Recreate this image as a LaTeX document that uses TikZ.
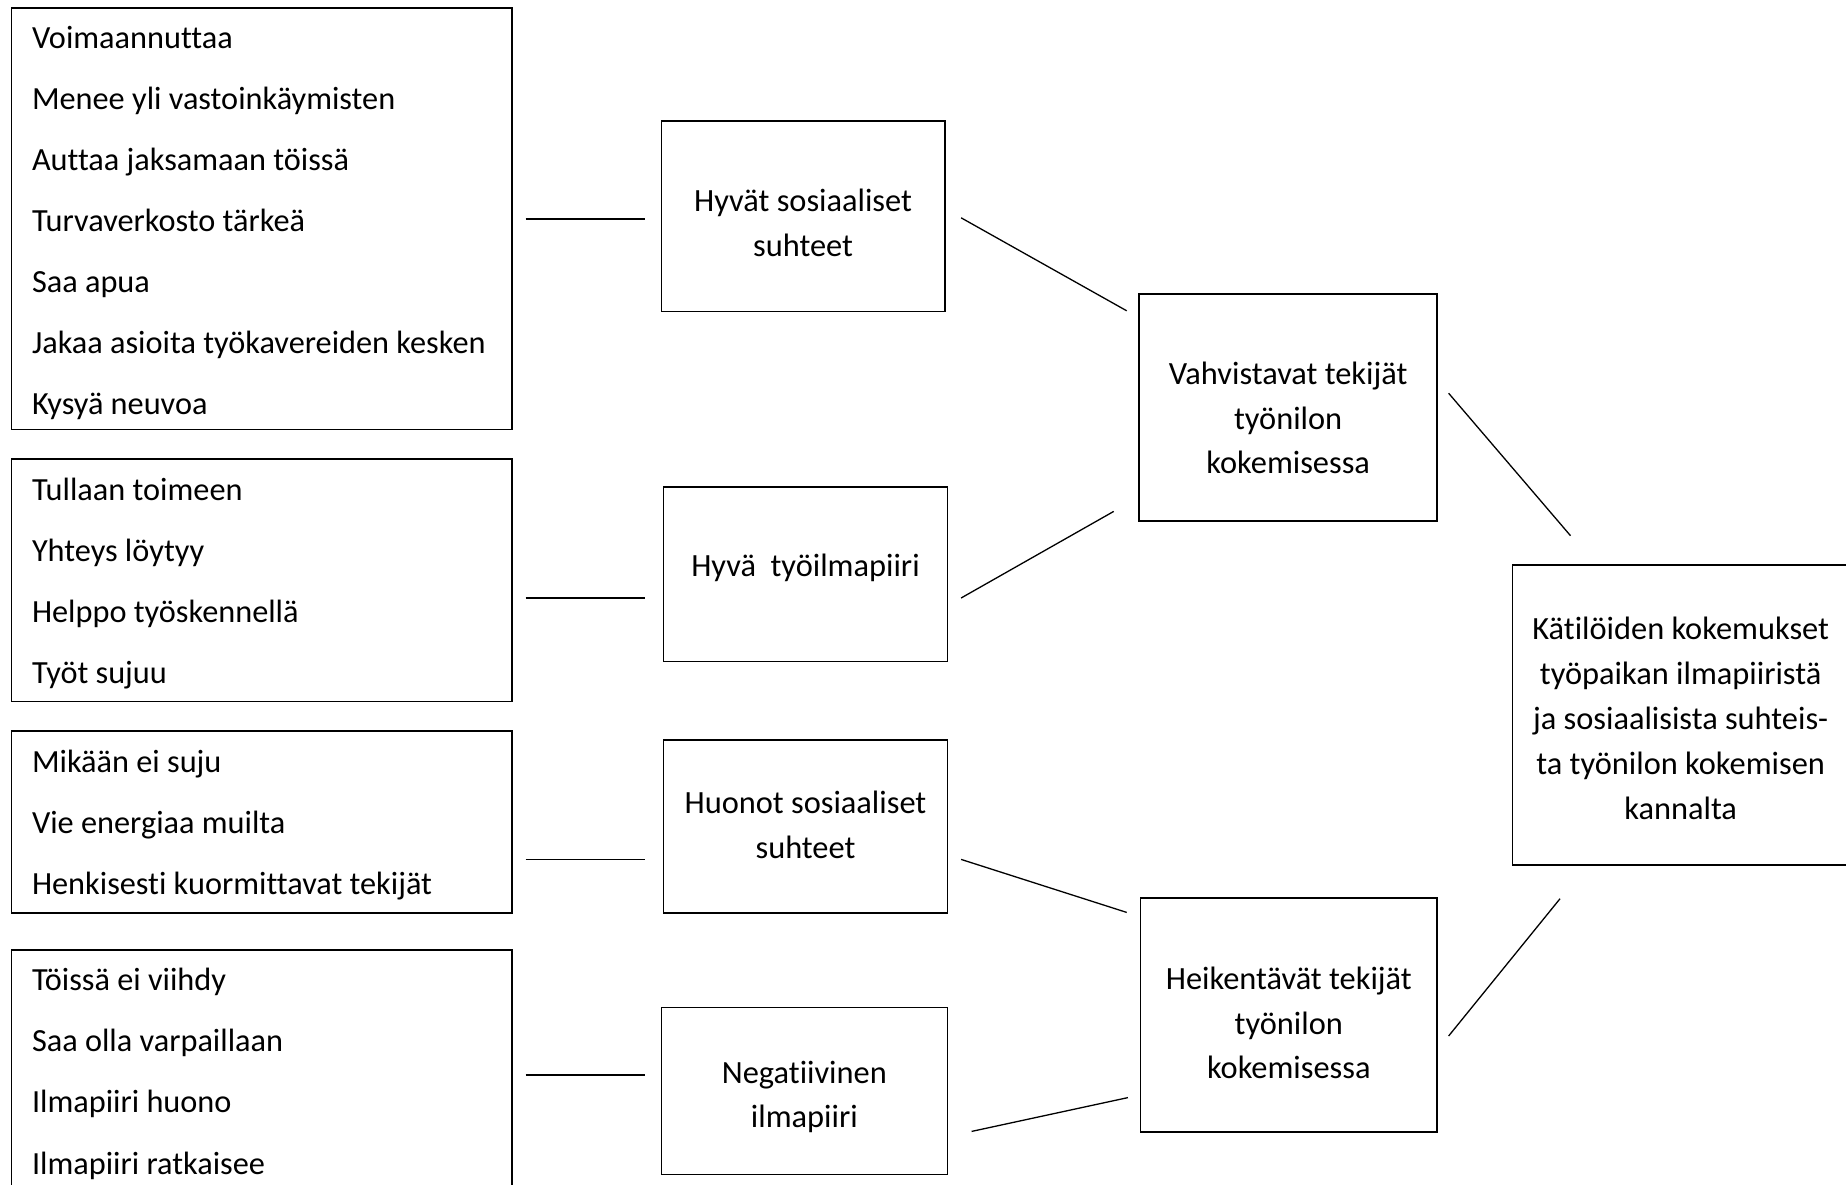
\documentclass[tikz,border=0pt]{standalone}
\usepackage{fontspec}
\setmainfont{Carlito}[Ligatures={NoCommon}]
\usetikzlibrary{calc}
\begin{document}
\begin{tikzpicture}[x=1pt,y=-1pt,
  box/.style={draw, line width=1.6pt, inner sep=0pt, anchor=north west},
  item/.style={anchor=base west, inner sep=0pt, font=\fontsize{32.3}{38}\selectfont},
  midtext/.style={align=center, inner sep=0pt, font=\fontsize{32.4}{44.8}\selectfont},
  conn/.style={line width=1.3pt}]
\useasboundingbox[fill=white] (0,0) rectangle (1846,1184);
% left boxes
\node[box, minimum width=500.4pt, minimum height=421.4pt] (a1) at (10.6,7.1) {};
\node[box, minimum width=500.4pt, minimum height=242.5pt] (a2) at (10.6,458) {};
\node[box, minimum width=500.4pt, minimum height=182.4pt] (a3) at (10.6,730) {};
\node[box, minimum width=500.4pt, minimum height=270pt] (a4) at (10.6,948.9) {};
\foreach \t [count=\i] in {Voimaannuttaa, Menee yli vastoinkäymisten, Auttaa jaksamaan töissä, Turvaverkosto tärkeä, Saa apua, Jakaa asioita työkavereiden kesken, Kysyä neuvoa}
  \node[item] (a1t\i) at (31.8,{48.7+61*(\i-1)}) {\t};
\foreach \t [count=\i] in {Tullaan toimeen, Yhteys löytyy, Helppo työskennellä, Työt sujuu}
  \node[item] (a2t\i) at (31.8,{500.8+60.8*(\i-1)}) {\t};
\foreach \t [count=\i] in {Mikään ei suju, Vie energiaa muilta, Henkisesti kuormittavat tekijät}
  \node[item] (a3t\i) at (31.8,{772.7+60.7*(\i-1)}) {\t};
\foreach \t [count=\i] in {Töissä ei viihdy, Saa olla varpaillaan, Ilmapiiri huono, Ilmapiiri ratkaisee}
  \node[item] (a4t\i) at (31.8,{990.5+61.2*(\i-1)}) {\t};
% middle and right boxes
\node[box, minimum width=283.5pt, minimum height=190.8pt] (b1) at (660.5,120) {};
\node[box, minimum width=283.8pt, minimum height=174.3pt] (b2) at (662.8,486.2) {};
\node[box, minimum width=283.8pt, minimum height=173.1pt] (b3) at (662.8,739.3) {};
\node[box, minimum width=286.1pt, minimum height=167.2pt] (b4) at (660.5,1006.6) {};
\node[box, minimum width=297.9pt, minimum height=227.3pt] (c1) at (1138.4,293.1) {};
\node[box, minimum width=296.7pt, minimum height=234.3pt] (c2) at (1139.6,897.1) {};
\node[box, minimum width=336.3pt, minimum height=300.2pt] (d) at (1511.7,563.9) {};
\node[midtext] (b1t) at ($(b1.center)+(0,7)$) {Hyvät sosiaaliset\\suhteet};
\node[midtext] (b2t) at ($(b2.center)+(0,-6)$) {Hyvä\ \ työilmapiiri};
\node[midtext] (b3t) at ($(b3.center)+(0,-2)$) {Huonot sosiaaliset\\suhteet};
\node[midtext] (b4t) at ($(b4.center)+(0,6)$) {Negatiivinen\\ilmapiiri};
\node[midtext] (c1t) at ($(c1.center)+(0,10.5)$) {Vahvistavat tekijät\\työnilon\\kokemisessa};
\node[midtext] (c2t) at ($(c2.center)+(0,8)$) {Heikentävät tekijät\\työnilon\\kokemisessa};
\node[midtext] (dt) at ($(d.center)+(0,3.5)$) {Kätilöiden kokemukset\\työpaikan ilmapiiristä\\ja sosiaalisista suhteis-\\ta työnilon kokemisen\\kannalta};
% connectors
\draw[conn] ($(a1.north east)+(13,211.9)$) -- ($(a1.north east -| b1.west)+(-15.3,211.9)$);
\draw[conn] ($(a2.north east)+(13,140)$) -- ($(a2.north east -| b2.west)+(-17.6,140)$);
\draw[conn] ($(a3.north east)+(13,129.4)$) -- ($(a3.north east -| b3.west)+(-17.6,129.4)$);
\draw[conn] ($(a4.north east)+(13,126)$) -- ($(a4.north east -| b4.west)+(-15.3,126)$);
\draw[conn] ($(b1.north east)+(15.5,97.8)$) -- ($(c1.north west)+(-11.7,17.7)$);
\draw[conn] ($(b2.north east)+(12.9,111.8)$) -- ($(c1.south west)+(-24.7,-10.6)$);
\draw[conn] ($(b3.north east)+(12.9,120.1)$) -- ($(c2.north west)+(-12.9,15.3)$);
\draw[conn] ($(b4.north east)+(23.4,124.8)$) -- ($(c2.south west)+(-11.7,-35.4)$);
\draw[conn] ($(c1.north east)+(10.7,100.1)$) -- ($(d.north west)+(58.8,-28.2)$);
\draw[conn] ($(c2.north east)+(10.7,138.9)$) -- ($(d.south west)+(48.3,33)$);
\end{tikzpicture}
\end{document}
